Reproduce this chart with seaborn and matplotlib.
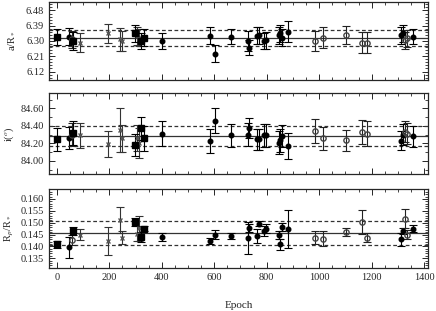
import numpy as np
import pandas as pd
import matplotlib
matplotlib.use('Agg')
import matplotlib.pyplot as plt
from matplotlib.ticker import MultipleLocator, AutoMinorLocator
import seaborn as sns

# Transit parameters per epoch
# filled squares
sq_epoch = [0, 62, 296, 320, 333]
sq_a = [6.325, 6.30, 6.345, 6.30, 6.32]
sq_a_err = [0.048, 0.055, 0.05, 0.05, 0.05]
sq_i = [84.245, 84.32, 84.18, 84.37, 84.255]
sq_i_err = [0.13, 0.14, 0.13, 0.13, 0.14]
sq_rp = [0.1408, 0.1465, 0.1503, 0.1440, 0.1475]
sq_rp_err = [0.0015, 0.0018, 0.0015, 0.0020, 0.0012]

# filled circles
fc_epoch = [46, 400, 585, 604, 662, 728, 732, 764, 770, 790, 798, 847, 852, 860, 881, 1312, 1319, 1357]
fc_a = [6.325, 6.30, 6.33, 6.225, 6.325, 6.30, 6.26, 6.33, 6.335, 6.30, 6.305, 6.335, 6.345, 6.32, 6.355, 6.335, 6.345, 6.325]
fc_a_err = [0.05, 0.05, 0.05, 0.05, 0.045, 0.06, 0.045, 0.05, 0.05, 0.05, 0.05, 0.05, 0.05, 0.05, 0.063, 0.05, 0.05, 0.045]
fc_i = [84.26, 84.31, 84.225, 84.46, 84.29, 84.30, 84.375, 84.245, 84.245, 84.29, 84.29, 84.205, 84.235, 84.285, 84.17, 84.23, 84.30, 84.28]
fc_i_err = [0.13, 0.14, 0.14, 0.14, 0.13, 0.13, 0.11, 0.12, 0.12, 0.13, 0.13, 0.13, 0.13, 0.13, 0.15, 0.11, 0.12, 0.12]
fc_rp = [0.1396, 0.1440, 0.1422, 0.1450, 0.1444, 0.1436, 0.1478, 0.1444, 0.1496, 0.1464, 0.1475, 0.1447, 0.1408, 0.1482, 0.1475, 0.1430, 0.1464, 0.1475]
fc_rp_err = [0.0045, 0.0016, 0.0014, 0.0018, 0.0014, 0.0068, 0.0018, 0.0031, 0.0012, 0.0020, 0.0020, 0.0017, 0.0022, 0.0018, 0.0080, 0.0027, 0.0013, 0.0014]

# open circles
oc_epoch = [56, 984, 1015, 1104, 1162, 1181, 1327, 1335]
oc_a = [6.31, 6.30, 6.32, 6.335, 6.29, 6.29, 6.305, 6.315]
oc_a_err = [0.05, 0.058, 0.06, 0.055, 0.063, 0.063, 0.05, 0.05]
oc_i = [84.30, 84.34, 84.255, 84.235, 84.33, 84.31, 84.33, 84.31]
oc_i_err = [0.13, 0.14, 0.13, 0.12, 0.14, 0.14, 0.12, 0.12]
oc_rp = [0.1426, 0.1437, 0.1433, 0.1461, 0.1503, 0.1437, 0.1517, 0.1450]
oc_rp_err = [0.0020, 0.0028, 0.0030, 0.0018, 0.0052, 0.0018, 0.0040, 0.0020]

# crosses
cr_epoch = [88, 196, 241, 247, 305, 315]
cr_a = [6.29, 6.345, 6.31, 6.30, 6.33, 6.32]
cr_a_err = [0.055, 0.055, 0.068, 0.06, 0.055, 0.05]
cr_i = [84.29, 84.19, 84.35, 84.255, 84.26, 84.205]
cr_i_err = [0.14, 0.15, 0.25, 0.16, 0.15, 0.17]
cr_rp = [0.1450, 0.1423, 0.1510, 0.1436, 0.1454, 0.1477]
cr_rp_err = [0.0024, 0.0058, 0.0055, 0.0028, 0.0030, 0.0053]

# weighted mean and +/- 1 sigma lines
a_mean, a_sig = 6.317, 0.048
i_mean, i_sig = 84.285, 0.115
rp_mean, rp_sig = 0.1457, 0.0051

sns.set_style('ticks')
plt.rcParams['font.family'] = ['Liberation Serif', 'DejaVu Serif']
plt.rcParams['mathtext.fontset'] = 'stix'
plt.rcParams['font.size'] = 7.5
for k in ['xtick', 'ytick']:
    plt.rcParams[k + '.direction'] = 'in'
    plt.rcParams[k + '.major.size'] = 4
    plt.rcParams[k + '.minor.size'] = 2
    plt.rcParams[k + '.major.width'] = 0.7
    plt.rcParams[k + '.minor.width'] = 0.6
    plt.rcParams[k + '.labelsize'] = 7.5
plt.rcParams['axes.linewidth'] = 0.9

def build(ep, v, e, kind):
    return pd.DataFrame({'epoch': ep, 'val': v, 'err': e, 'kind': kind})

panels = [
    (pd.concat([build(sq_epoch, sq_a, sq_a_err, 'sq'), build(fc_epoch, fc_a, fc_a_err, 'fc'),
                build(oc_epoch, oc_a, oc_a_err, 'oc'), build(cr_epoch, cr_a, cr_a_err, 'cr')]),
     a_mean, a_sig, (6.07, 6.53), [6.12, 6.21, 6.30, 6.39, 6.48], 5, r'a/R$_*$', '%.2f'),
    (pd.concat([build(sq_epoch, sq_i, sq_i_err, 'sq'), build(fc_epoch, fc_i, fc_i_err, 'fc'),
                build(oc_epoch, oc_i, oc_i_err, 'oc'), build(cr_epoch, cr_i, cr_i_err, 'cr')]),
     i_mean, i_sig, (83.845, 84.77), [84.00, 84.20, 84.40, 84.60], 2, r'i($^{o}$)', '%.2f'),
    (pd.concat([build(sq_epoch, sq_rp, sq_rp_err, 'sq'), build(fc_epoch, fc_rp, fc_rp_err, 'fc'),
                build(oc_epoch, oc_rp, oc_rp_err, 'oc'), build(cr_epoch, cr_rp, cr_rp_err, 'cr')]),
     rp_mean, rp_sig, (0.131, 0.1642), [0.135, 0.140, 0.145, 0.150, 0.155, 0.160], 5, r'R$_p$/R$_*$', '%.3f'),
]

styles = {
    'sq': dict(marker='s', ms=3.8, mfc='black', mec='black', color='black'),
    'fc': dict(marker='o', ms=3.3, mfc='black', mec='black', color='black'),
    'oc': dict(marker='o', ms=3.8, mfc='none', mec='#444444', color='#222222'),
    'cr': dict(marker='x', ms=2.5, mfc='#555555', mec='#555555', color='#333333'),
}

fig = plt.figure(figsize=(4.36, 3.11), dpi=100)
boxes = [(0.7428, 0.9936), (0.4395, 0.6994), (0.1392, 0.3923)]
left, right = 0.1124, 0.9817

for (df, m, s, ylim, yt, nminor, ylab, fmt), (b, t) in zip(panels, boxes):
    ax = fig.add_axes([left, b, right - left, t - b])
    ax.axhline(m, color='#333333', lw=0.9)
    ax.axhline(m + s, color='#333333', lw=0.9, ls=(0, (3, 2)))
    ax.axhline(m - s, color='#333333', lw=0.9, ls=(0, (3, 2)))
    for kind, sub in df.groupby('kind'):
        st = styles[kind]
        ax.errorbar(sub['epoch'], sub['val'], yerr=sub['err'], ls='none',
                    capsize=3, elinewidth=0.8, capthick=0.8, zorder=3, **st)
    ax.set_xlim(-30, 1415)
    ax.set_ylim(*ylim)
    ax.set_yticks(yt)
    ax.yaxis.set_major_formatter(plt.FormatStrFormatter(fmt))
    ax.yaxis.set_minor_locator(AutoMinorLocator(nminor))
    ax.xaxis.set_major_locator(MultipleLocator(200))
    ax.xaxis.set_minor_locator(MultipleLocator(50))
    ax.tick_params(which='both', top=True, right=True)
    ax.set_ylabel(ylab, fontsize=7.5)
    ax.yaxis.set_label_coords(-0.088, 0.5)
    ax.set_xlabel('')
    if b > 0.2:
        ax.tick_params(labelbottom=False)
    else:
        ax.set_xlabel('Epoch', fontsize=8, labelpad=14)

fig.savefig('out.png', dpi=100)
